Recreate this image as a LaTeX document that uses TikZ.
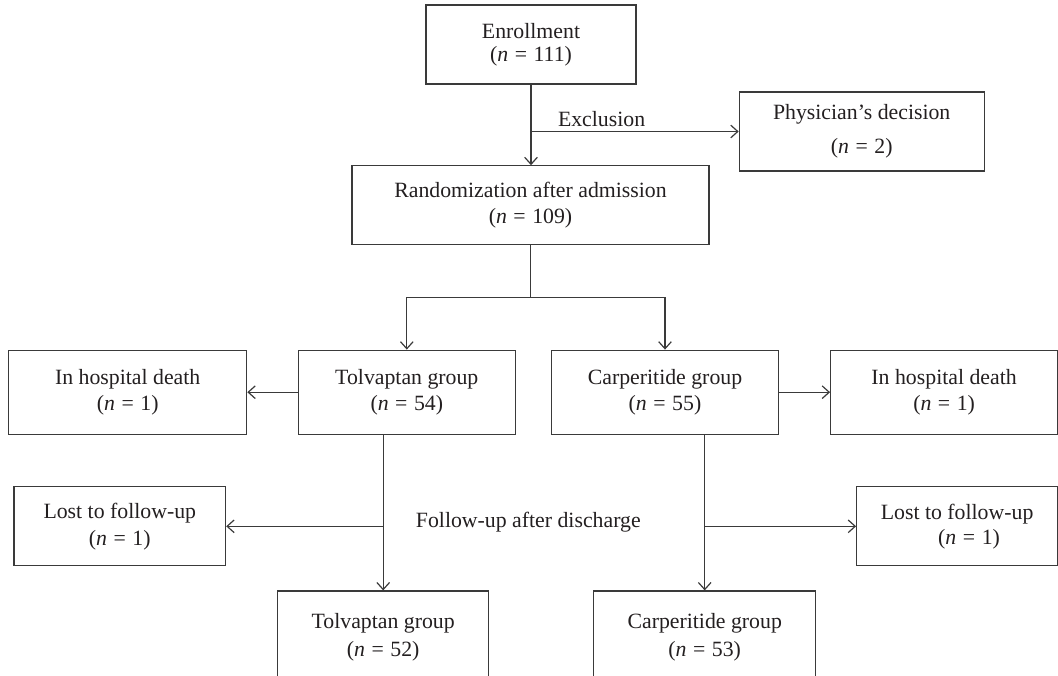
\documentclass[tikz,border=0pt]{standalone}
\usepackage{fontspec}
\setmainfont{Liberation Serif}
\usepackage{tikz}
\usetikzlibrary{arrows.meta}
\definecolor{linegray}{HTML}{3A3A3A}
\definecolor{textgray}{HTML}{231F20}
\newcommand{\nval}[1]{(\textit{n}\hspace{0.3em}=\hspace{0.3em}#1)}

\begin{document}
\begin{tikzpicture}[x=0.025cm,y=-0.025cm,>={Straight Barb[length=5pt,width=9pt]},
  box/.style={draw=linegray,line width=0.85pt,text=textgray,align=center,
    font=\fontsize{15.5}{19}\selectfont,minimum height=1.975cm,inner sep=2pt},
  link/.style={->,draw=linegray,line width=0.85pt},
  lbl/.style={text=textgray,font=\fontsize{15.5}{19}\selectfont}]
  \useasboundingbox (0,0) rectangle (1058,676);
  % boxes
  \node[box,minimum width=5.25cm] (enroll) at (531,44.5) {Enrollment\\[-2.6pt]\nval{111}};
  \node[box,minimum width=6.12cm] (phys) at (861.7,131.5) {Physician’s decision\\[5pt]\nval{2}};
  \node[box,minimum width=8.92cm] (rand) at (530.5,205.3) {Randomization after admission\\[-1pt]\nval{109}};
  \node[box,minimum width=5.42cm,minimum height=2.1cm] (tolv) at (406.8,392.2) {Tolvaptan group\\\nval{54}};
  \node[box,minimum width=5.66cm,minimum height=2.1cm] (carp) at (665,392.2) {Carperitide group\\\nval{55}};
  \node[box,minimum width=5.95cm,minimum height=2.1cm] (deathL) at (127.7,392.2) {In hospital death\\\nval{1}};
  \node[box,minimum width=5.67cm,minimum height=2.1cm] (deathR) at (944.1,392.2) {In hospital death\\\nval{1}};
  \node[box,minimum width=5.29cm] (lostL) at (119.8,526.3) {Lost to follow-up\\\nval{1}};
  \node[box,minimum width=5.02cm] (lostR) at (957.1,526.3) {Lost to follow-up\\[-1pt]\hspace{17pt}\nval{1}};
  \node[box,minimum width=5.275cm,minimum height=2.3cm] (tolvB) at (383.2,637) {Tolvaptan group\\[1pt]\nval{52}};
  \node[box,minimum width=5.55cm,minimum height=2.3cm] (carpB) at (704.7,637) {Carperitide group\\[1pt]\nval{53}};
  % connectors
  \draw[link] (enroll.south) -- (enroll.south |- rand.north);
  \draw[link] (enroll.south |- phys.west) -- (phys.west) node[lbl,above,pos=0.34] {Exclusion};
  \coordinate (split) at (rand.south |- 0,297.3);
  \draw[linegray,line width=0.85pt] (rand.south) -- (split);
  \draw[link] (split) -| (tolv.north);
  \draw[link] (split) -| (carp.north);
  \draw[link] (tolv.west) -- (deathL.east);
  \draw[link] (carp.east) -- (deathR.west);
  \draw[link] (tolv.south -| tolvB.north) -- (tolvB.north);
  \draw[link] (tolvB.north |- lostL.east) -- (lostL.east);
  \draw[link] (carp.south -| carpB.north) -- (carpB.north);
  \draw[link] (carpB.north |- lostR.west) -- (lostR.west);
  \node[lbl] (follow) at (528.3,521.7) {Follow-up after discharge};
\end{tikzpicture}
\end{document}
